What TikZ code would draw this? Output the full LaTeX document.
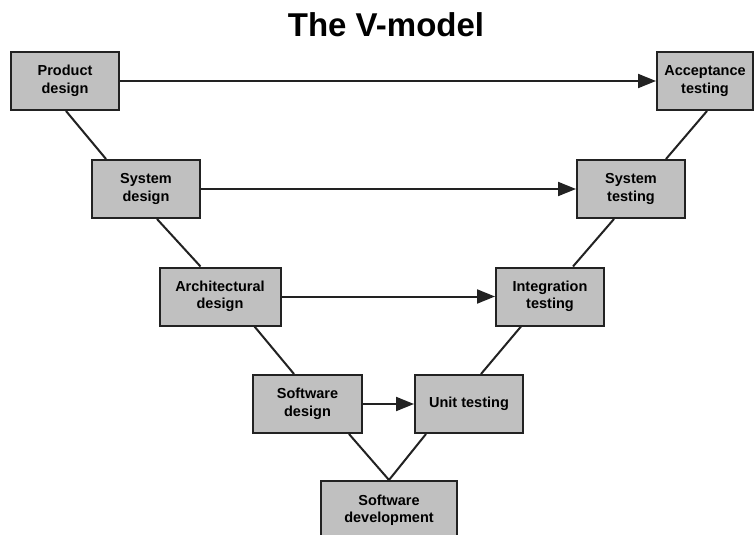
\documentclass[tikz,border=0pt]{standalone}
\usepackage{fontspec}
\setmainfont{Liberation Sans}
\usetikzlibrary{arrows.meta}
\definecolor{boxgray}{RGB}{192,192,192}
\definecolor{edge}{RGB}{34,34,34}
\begin{document}
\begin{tikzpicture}[x=1pt,y=-1pt,
  phase/.style={draw=edge, line width=2pt, fill=boxgray, align=center,
    inner sep=0pt, minimum width=108pt, minimum height=58pt,
    font=\fontsize{14.5}{17.5}\selectfont\bfseries},
  link/.style={draw=edge, line width=2pt},
  flow/.style={link, -{Triangle[length=18pt,width=14pt]}}]
% page frame
\fill[white] (0,0) rectangle (756,535);
\useasboundingbox (0,0) rectangle (756,535);

% title
\node[font=\fontsize{33}{40}\selectfont\bfseries] (title) at (386,25) {The V-model};

% left leg: design phases
\node[phase] (pd) at (65,81) {Product\\design};
\node[phase] (sd) at (146,189) {System\\design};
\node[phase, minimum width=121pt] (ad) at (220,296.5) {Architectural\\design};
\node[phase, minimum width=109pt] (swd) at (307.5,404) {Software\\design};
% bottom of the V
\node[phase, minimum width=136pt] (dev) at (389,510) {Software\\development};
% right leg: testing phases
\node[phase] (ut) at (469,404) {Unit testing};
\node[phase] (it) at (550,296.5) {Integration\\testing};
\node[phase] (st) at (631,189) {System\\testing};
\node[phase, minimum width=96pt] (at) at (705,81) {Acceptance\\testing};

% the V itself
\draw[link] ([xshift=56pt]pd.south west) -- ([xshift=15pt]sd.north west);
\draw[link] ([xshift=66pt]sd.south west) -- ([xshift=42pt]ad.north west);
\draw[link] ([xshift=96pt]ad.south west) -- ([xshift=42pt]swd.north west);
\draw[link] ([xshift=97pt]swd.south west) -- (dev.north);
\draw[link] ([xshift=12pt]ut.south west) -- (dev.north);
\draw[link] ([xshift=67pt]ut.north west) -- ([xshift=26pt]it.south west);
\draw[link] ([xshift=78pt]it.north west) -- ([xshift=38pt]st.south west);
\draw[link] ([xshift=90pt]st.north west) -- ([xshift=51pt]at.south west);

% verification links across the V
\draw[flow] (pd.east) -- (at.west);
\draw[flow] (sd.east) -- (st.west);
\draw[flow] (ad.east) -- (it.west);
\draw[flow] (swd.east) -- (ut.west);
\end{tikzpicture}
\end{document}
